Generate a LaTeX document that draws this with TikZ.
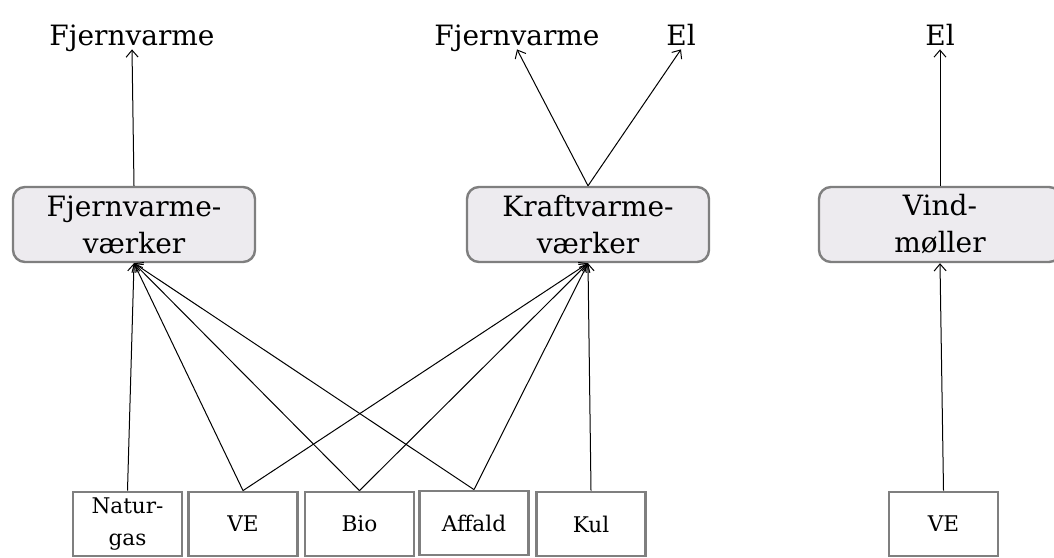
\documentclass[tikz,border=0pt]{standalone}
\usepackage{fontspec}
\setmainfont{DejaVu Serif}
\usetikzlibrary{arrows.meta}
\definecolor{boxfill}{HTML}{EDEBEF}
\definecolor{boxline}{HTML}{7F7F7F}
\begin{document}
\begin{tikzpicture}[x=0.5pt,y=-0.5pt,
  plant/.style={draw=boxline, line width=1.2pt, rounded corners=6pt, fill=boxfill,
    minimum width=121pt, minimum height=37.5pt, inner sep=0pt, align=center,
    font=\fontsize{14}{18.5}\selectfont},
  src/.style={draw=boxline, line width=1.4pt, fill=white,
    minimum width=54.5pt, minimum height=32pt, inner sep=0pt, align=center,
    font=\fontsize{10.8}{16}\selectfont},
  outlbl/.style={anchor=base, inner sep=2pt, text depth=0pt, font=\fontsize{14}{18}\selectfont},
  flow/.style={line width=0.5pt, -{Straight Barb[length=3.5pt,width=6pt]}}
]
\useasboundingbox (0,0) rectangle (1054,557);

% output labels
\node[outlbl] (o1) at (132,45) {Fjernvarme};
\node[outlbl] (o2) at (517,45) {Fjernvarme};
\node[outlbl] (o3) at (681,45) {El};
\node[outlbl] (o4) at (940,45) {El};

% plants
\node[plant] (p1) at (134,224.5) {Fjernvarme-\\værker};
\node[plant] (p2) at (588,224.5) {Kraftvarme-\\værker};
\begin{scope}
\clip (0,0) rectangle (1054,557);
\node[plant] (p3) at (940,224.5) {Vind-\\møller};
\end{scope}

% sources
\node[src] (ng) at (127.5,524) {Natur-\\gas};
\node[src] (ve) at (243,524) {VE};
\node[src] (bio) at (359.5,524) {Bio};
\node[src] (aff) at (474,523) {Affald};
\node[src] (kul) at (591,524) {Kul};
\node[src] (ve2) at (943.5,524) {VE};

% outputs
\draw[flow] (p1.north) -- (o1.south);
\draw[flow] (p2.north) -- (o2.south);
\draw[flow] (p2.north) -- (o3.south);
\draw[flow] (p3.north) -- (o4.south);

% inputs
\draw[flow] (ng.north) -- (p1.south);
\draw[flow] (ve.north) -- (p1.south);
\draw[flow] (bio.north) -- (p1.south);
\draw[flow] (aff.north) -- (p1.south);
\draw[flow] (ve.north) -- (p2.south);
\draw[flow] (bio.north) -- (p2.south);
\draw[flow] (aff.north) -- (p2.south);
\draw[flow] (kul.north) -- (p2.south);
\draw[flow] (ve2.north) -- (p3.south);
\end{tikzpicture}
\end{document}
